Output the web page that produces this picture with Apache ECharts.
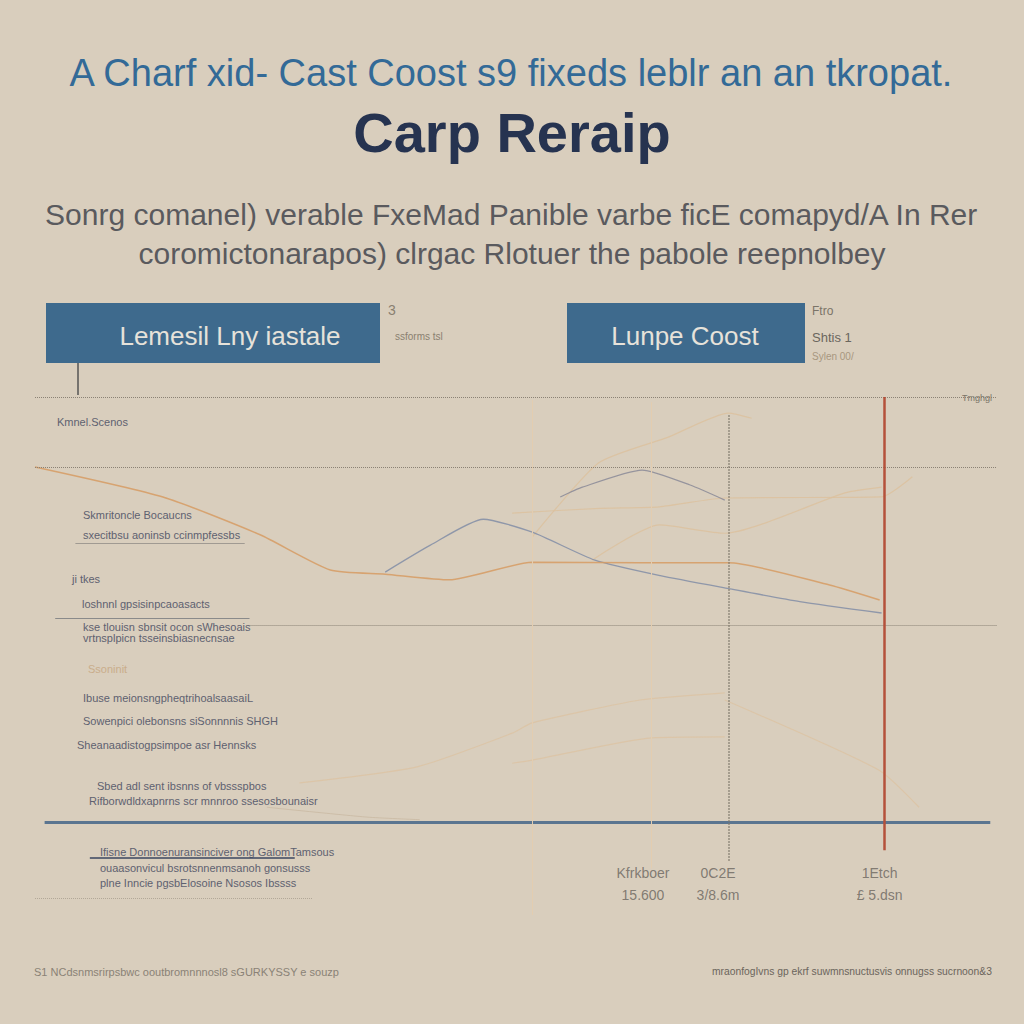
<!DOCTYPE html>
<html><head><meta charset="utf-8">
<script src="https://cdn.jsdelivr.net/npm/echarts@6/dist/echarts.min.js"></script>
<style>html,body{margin:0;padding:0;background:#d9cebd}#c{width:1024px;height:1024px}</style>
</head><body><div id="c"></div>
<script>
// ---- text content ----
const titleLine1 = "A Charf xid- Cast Coost s9 fixeds leblr an an tkropat.";
const titleLine2 = "Carp Reraip";
const subLine1 = "Sonrg comanel) verable FxeMad Panible varbe ficE comapyd/A In Rer";
const subLine2 = "coromictonarapos) clrgac Rlotuer the pabole reepnolbey";
const boxLabels = ["Lemesil Lny iastale", "Lunpe Coost"];
const footerLeft = "S1 NCdsnmsrirpsbwc ooutbromnnnosl8 sGURKYSSY e souzp";
const footerRight = "mraonfogIvns gp ekrf suwmnsnuctusvis onnugss sucrnoon&3";

// ---- series data (x: 0-100 scale, y: 0-100 scale) ----
const s1x = [0, 13.3, 23.4, 30.7, 36.4, 43.1, 51.7, 62.9, 72.1, 82.6, 87.8];
const s1y = [86.5, 80.7, 73.4, 66.6, 65.8, 64.7, 68.1, 68.0, 68.0, 63.7, 60.8];
const s2x = [36.4, 41.1, 46.6, 51.7, 58.2, 65.0, 72.1, 79.5, 88.0];
const s2y = [66.2, 71.4, 76.4, 73.9, 68.5, 65.5, 63.0, 60.5, 58.3];
const s3x = [54.6, 56.9, 63.1, 68.1, 71.7];
const s3y = [80.7, 82.6, 85.9, 83.0, 80.1];
const s4x = [51.7, 58.6, 65.9, 72.1, 74.5];
const s4y = [73.0, 87.3, 92.3, 96.9, 95.9];
const s5x = [49.6, 58.7, 64.9, 71.7, 88.0, 91.2];
const s5y = [77.6, 78.5, 78.8, 80.5, 80.7, 84.6];
const s6x = [57.9, 64.9, 71.7, 84.2, 88.0];
const s6y = [68.5, 75.3, 73.7, 81.5, 82.6];
const s7x = [27.5, 39.7, 49.6, 51.7, 62.9, 71.7];
const s7y = [25.5, 28.6, 35.1, 37.1, 41.5, 42.9];
const s8x = [71.7, 87.7, 91.9];
const s8y = [41.5, 28.0, 20.8];
const s9x = [49.6, 51.7, 64.1, 71.7];
const s9y = [29.3, 29.9, 34.2, 34.4];
const s10x = [24.1, 34.5, 40.0];
const s10y = [20.8, 18.9, 18.4];

// ---- reference lines ----
const hGridY = [100, 86.5];
const hGridMidY = 56.0;
const baseAxisY = 18.0;
const vLineX = [51.7, 64.1, 72.1, 88.3];

// ---- bottom tick labels ----
const tickX = [63.2, 71.0, 87.8];
const tickTop = ["Kfrkboer", "0C2E", "1Etch"];
const tickBottom = ["15.600", "3/8.6m", "£ 5.dsn"];

// ---- left annotations ----
const notes = [
  ["Kmnel.Scenos", 57, 423],
  ["Skmritoncle Bocaucns", 83, 516],
  ["sxecitbsu aoninsb ccinmpfessbs", 83, 536],
  ["ji tkes", 72, 580],
  ["loshnnl gpsisinpcaoasacts", 82, 605],
  ["kse tlouisn sbnsit ocon sWhesoais", 83, 628],
  ["vrtnsplpicn tsseinsbiasnecnsae", 83, 639],
  ["Ibuse meionsngpheqtrihoalsaasaiL", 83, 699],
  ["Sowenpici olebonsns siSonnnnis SHGH", 83, 722],
  ["Sheanaadistogpsimpoe asr Hennsks", 77, 746],
  ["Sbed adl sent ibsnns of vbssspbos", 97, 787],
  ["Rifborwdldxapnrns scr mnnroo ssesosbounaisr", 89, 802],
  ["Ifisne Donnoenuransinciver ong GalomTamsous", 100, 853],
  ["ouaasonvicul bsrotsnnenmsanoh gonsusss", 100, 869],
  ["plne Inncie pgsbElosoine Nsosos Ibssss", 100, 884]
];

function pairs(xs, ys){ return xs.map((x,i)=>[x, ys[i]]); }

const chart = echarts.init(document.getElementById('c'), null, {renderer:'svg'});
const FONT = "Liberation Sans";

function lineSeries(xs, ys, color, width, opacity){
  return {type:'line', data:pairs(xs,ys), symbol:'none', smooth:0.2, silent:true,
    lineStyle:{color:color, width:width, opacity:opacity}, z:3};
}

const graphics = [
  {type:'text', left:'center', top:54, style:{text:titleLine1, font:"38px "+FONT, fill:'#336a97'}},
  {type:'text', left:'center', top:104, style:{text:titleLine2, font:"bold 56px "+FONT, fill:'#263350'}},
  {type:'text', left:'center', top:199, style:{text:subLine1, font:"30px "+FONT, fill:'#5a5a5e'}},
  {type:'text', left:'center', top:238, style:{text:subLine2, font:"30px "+FONT, fill:'#5a5a5e'}},
  {type:'rect', shape:{x:46,y:303,width:334,height:60}, style:{fill:'#3e6a8d'}},
  {type:'rect', shape:{x:567,y:303,width:238,height:60}, style:{fill:'#3e6a8d'}},
  {type:'text', x:230, y:336, style:{text:boxLabels[0], font:"26px "+FONT, fill:'#e6e2da', align:'center', verticalAlign:'middle'}},
  {type:'text', x:685, y:336, style:{text:boxLabels[1], font:"26px "+FONT, fill:'#e6e2da', align:'center', verticalAlign:'middle'}},
  {type:'text', x:388, y:303, style:{text:"3", font:"14px "+FONT, fill:'#8a8070'}},
  {type:'text', x:395, y:331, style:{text:"ssforms tsl", font:"10px "+FONT, fill:'#8a8070'}},
  {type:'text', x:812, y:305, style:{text:"Ftro", font:"12px "+FONT, fill:'#7b7468'}},
  {type:'text', x:812, y:331, style:{text:"Shtis 1", font:"13px "+FONT, fill:'#6b665e'}},
  {type:'text', x:812, y:351, style:{text:"Sylen 00/", font:"10px "+FONT, fill:'#a8977f'}},
  {type:'line', shape:{x1:78,y1:363,x2:78,y2:395}, style:{stroke:'#555',lineWidth:1.5}},
  {type:'text', x:962, y:393, style:{text:"Tmghgl", font:"9px "+FONT, fill:'#7a7468'}},
  {type:'text', x:88, y:663, style:{text:"Ssoninit", font:"11px "+FONT, fill:'#c9ad8b'}},
  {type:'text', x:34, y:966, style:{text:footerLeft, font:"11px "+FONT, fill:'#8a8276'}},
  {type:'text', x:712, y:966, style:{text:footerRight, font:"10.3px "+FONT, fill:'#6b655c'}}
];
notes.forEach(n=>graphics.push({type:'text', x:n[1], y:n[2]-7, style:{text:n[0], font:"11px "+FONT, fill:'#5e6170'}}));

const mlDotted = {type:'dotted', color:'#8b8275', width:1};
const markLines = [
  ...hGridY.map(y=>[{coord:[0,y], lineStyle:mlDotted},{coord:[100,y]}]),
  [{coord:[22.3,hGridMidY], lineStyle:mlDotted},{coord:[100,hGridMidY]}],
  [{coord:[2.1,57.3], lineStyle:{type:'solid',color:'#8a8a8a',width:1}},{coord:[22.3,57.3]}],
  [{coord:[4.2,71.8], lineStyle:{type:'solid',color:'#a09a92',width:1}},{coord:[21.8,71.8]}],
  [{coord:[5.7,11.0], lineStyle:{type:'solid',color:'#3a4660',width:1.5}},{coord:[27.0,11.0]}],
  [{coord:[0,3.3], lineStyle:{type:'dotted',color:'#b2a898',width:1}},{coord:[28.8,3.3]}],
  [{coord:[1.0,baseAxisY], lineStyle:{type:'solid',color:'#5b7590',width:3}},{coord:[99.3,baseAxisY]}],
  [{coord:[vLineX[0],99.4], lineStyle:{type:'solid',color:'#e3cdb0',width:1}},{coord:[vLineX[0],0]}],
  [{coord:[vLineX[1],99], lineStyle:{type:'solid',color:'#e3cdb0',width:1}},{coord:[vLineX[1],9]}],
  [{coord:[vLineX[2],96.5], lineStyle:{type:'dotted',color:'#7f776b',width:1.5}},{coord:[vLineX[2],10.2]}],
  [{coord:[vLineX[3],100], lineStyle:{type:'solid',color:'#b4513b',width:2.5}},{coord:[vLineX[3],12.5]}]
];

chart.setOption({
  backgroundColor:'#d9cebd',
  animation:false,
  graphic:graphics,
  grid:{left:35, right:27, top:397, bottom:109},
  xAxis:{type:'value', min:0, max:100, show:false},
  yAxis:{type:'value', min:0, max:100, show:false},
  series:[
    lineSeries(s4x,s4y,'#dcc09c',1.2,0.8),
    lineSeries(s5x,s5y,'#dcc09c',1.2,0.8),
    lineSeries(s6x,s6y,'#dcc09c',1.2,0.8),
    lineSeries(s7x,s7y,'#dcc3a3',1.2,0.8),
    lineSeries(s8x,s8y,'#dcc3a3',1.2,0.8),
    lineSeries(s9x,s9y,'#dcc3a3',1.2,0.8),
    lineSeries(s10x,s10y,'#c9b9a3',1,0.8),
    lineSeries(s3x,s3y,'#8a8a98',1.2,0.85),
    lineSeries(s2x,s2y,'#7584a3',1.3,0.75),
    Object.assign(lineSeries(s1x,s1y,'#d69b63',1.5,0.85), {
      markLine:{silent:true, symbol:'none', label:{show:false}, data:markLines}
    }),
    {type:'scatter', symbolSize:0, silent:true, data:pairs(tickX, tickX.map(()=>6)),
      label:{show:true, position:'inside', lineHeight:22, fontFamily:FONT,
        formatter:p=>tickTop[p.dataIndex]+"\n"+tickBottom[p.dataIndex],
        fontSize:14, color:'#6a655d'}}
  ]
});
</script></body></html>
